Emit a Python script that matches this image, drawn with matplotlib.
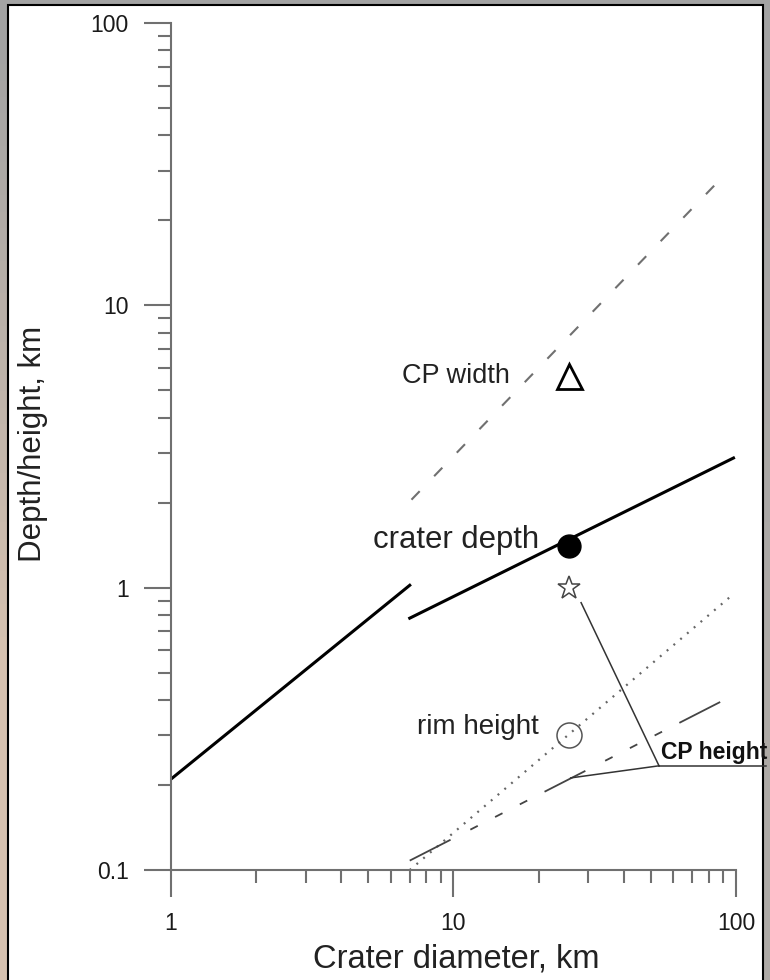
import matplotlib
matplotlib.use('Agg')
import numpy as np
import matplotlib.pyplot as plt
from matplotlib.patches import Rectangle
from matplotlib.ticker import FuncFormatter, NullFormatter

plt.rcParams['font.family'] = ['Liberation Sans', 'DejaVu Sans']
plt.rcParams['lines.scale_dashes'] = False

# fitted relations vs crater diameter (km)
simple_d = [1, 7]
simple_depth = [0.21, 1.02]
complex_d = [7, 98]
complex_depth = [0.78, 2.88]
cp_width_d = [7.1, 93]
cp_width = [2.05, 29.6]
rim_d = [7, 98]
rim_h = [0.10, 0.95]
cp_height_d = [7, 97]
cp_height = [0.108, 0.414]

# the measured crater
obs_d = 25.7
obs_depth = 1.40
obs_cp_height = 1.0
obs_rim = 0.30
obs_cp_width = 5.6

# "CP height" label leaders
leader_x = [28.3, 53.4]
leader_y = [0.885, 0.234]
branch_x = [53.4, 26.0]
branch_y = [0.234, 0.212]
under_x = [53.4, 128]
under_y = [0.234, 0.234]

fig = plt.figure(figsize=(7.7, 9.8), dpi=100)

# stone-ish frame behind the white panel: grey on top, beige lower left
bg = fig.add_axes([0, 0, 1, 1], zorder=-20)
gy, gx = np.mgrid[0:1:60j, 0:1:40j]
grey = np.array([0.64, 0.64, 0.64])
beige = np.array([0.84, 0.76, 0.69])
w = np.clip((gy - 0.05) * 1.6, 0, 1) * np.clip(1.2 - gx, 0, 1)
img = grey + (beige - grey) * w[..., None]
bg.imshow(img, aspect='auto', extent=[0, 1, 0, 1], origin='upper')
bg.set_axis_off()

panel = Rectangle((8 / 770, -0.01), 755 / 770, 975 / 980 + 0.01,
                  transform=fig.transFigure, facecolor='white',
                  edgecolor='black', lw=1.5, zorder=-10)
fig.patches.append(panel)
ax = fig.add_axes([0.2221, 0.1122, 0.7337, 0.8643])
ax.set_zorder(1)
ax.patch.set_alpha(0)

ax.plot(simple_d, simple_depth, color='black', lw=2.2)
ax.plot(complex_d, complex_depth, color='black', lw=2.2)
ax.plot(cp_width_d, cp_width, color='#707070', lw=1.5, dashes=(8.5, 15))
ax.plot(rim_d, rim_h, color='#666666', lw=1.6, dashes=(1.4, 5))
ax.plot(cp_height_d, cp_height, color='#444444', lw=1.3,
        dashes=(33, 16, 6, 14, 6, 14, 6, 14))

ax.plot(leader_x, leader_y, color='#333333', lw=1.1)
ax.plot(branch_x, branch_y, color='#333333', lw=1.1)
ax.plot(under_x, under_y, color='#333333', lw=1.1, clip_on=False)

ax.plot(obs_d, obs_depth, 'o', ms=16.5, color='black')
ax.plot(obs_d, obs_cp_height, '*', ms=17, mfc='none', mec='#444444', mew=1.1)
ax.plot(obs_d, obs_rim, 'o', ms=18, mfc='none', mec='#555555', mew=1.1)
ax.plot(obs_d, obs_cp_width, '^', ms=18, mfc='none', mec='black', mew=2)

ax.text(15.8, 5.29, 'CP width', ha='right', va='baseline', fontsize=19.5, color='#222222')
ax.text(20.1, 1.387, 'crater depth', ha='right', va='baseline', fontsize=22.4, color='#222222')
ax.text(20.1, 0.303, 'rim height', ha='right', va='baseline', fontsize=20, color='#222222')
ax.text(54.3, 0.248, 'CP height', ha='left', va='baseline', fontsize=16.5,
        fontweight='bold', color='#111111')

ax.set_xscale('log')
ax.set_yscale('log')
ax.set_xlim(1, 100)
ax.set_ylim(0.1, 100)

fmt = FuncFormatter(lambda v, _: f'{v:g}')
ax.xaxis.set_major_formatter(fmt)
ax.yaxis.set_major_formatter(fmt)
ax.xaxis.set_minor_formatter(NullFormatter())
ax.yaxis.set_minor_formatter(NullFormatter())

for s in ['top', 'right']:
    ax.spines[s].set_visible(False)
for s in ['left', 'bottom']:
    ax.spines[s].set_color('#707070')
    ax.spines[s].set_linewidth(1.5)

ax.tick_params(which='major', direction='out', length=19.5, width=1.5,
               color='#707070', labelsize=16.5, pad=11, labelcolor='#1a1a1a')
ax.tick_params(which='minor', direction='out', length=9.5, width=1.5, color='#707070')

ax.set_xlabel('Crater diameter, km', fontsize=23.5, color='#222222')
ax.set_ylabel('Depth/height, km', fontsize=22.5, color='#222222')
ax.xaxis.set_label_coords(0.504, -0.0865)
ax.yaxis.set_label_coords(-0.217, 0.503)

fig.savefig('out.png', dpi=100)
